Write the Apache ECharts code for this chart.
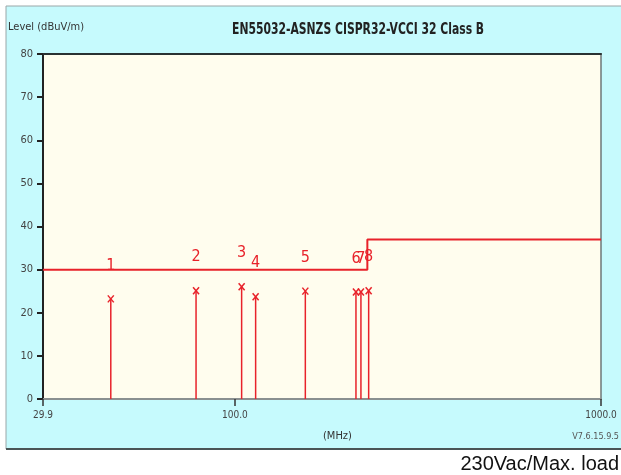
<!DOCTYPE html>
<html>
<head>
<meta charset="utf-8">
<script src="https://cdn.jsdelivr.net/npm/echarts@6/dist/echarts.min.js"></script>
<style>html,body{margin:0;padding:0;background:#fff;}#c{width:621px;height:475px;}</style>
</head>
<body>
<div id="c"></div>
<script>
// Data
const markerFreqs = [45.8, 78.3, 104.3, 113.9, 155.7, 214.1, 220.9, 231.9]; // MHz
const markerLevels = [23.1, 25.0, 25.9, 23.6, 24.9, 24.7, 24.7, 25.0];     // dBuV/m
const markerNames = ['1', '2', '3', '4', '5', '6', '7', '8'];
const limitFreqs = [29.9, 230, 230, 1000];
const limitLevels = [30, 30, 37, 37];
const xTickValues = [29.9, 100, 1000];

const FONT = "'Liberation Sans Narrow','DejaVu Sans Condensed',Arial,sans-serif";
const RED = '#e8222a';

const chart = echarts.init(document.getElementById('c'), null, {renderer: 'canvas'});

const markerData = markerFreqs.map((f, i) => [f, markerLevels[i], markerNames[i]]);
const limitData = limitFreqs.map((f, i) => [f, limitLevels[i]]);

const option = {
  backgroundColor: '#ffffff',
  animation: false,
  graphic: [
    {type: 'rect', z: -10, shape: {x: 6, y: 6, width: 620, height: 443},
     style: {fill: '#c6fafd', stroke: '#9aa6a8', lineWidth: 1}},
    {type: 'line', z: -9, shape: {x1: 6, y1: 449, x2: 621, y2: 449},
     style: {stroke: '#4a5456', lineWidth: 2}},
    {type: 'text', left: 8, top: 22, style: {text: 'Level (dBuV/m)', font: '11px ' + FONT, fill: '#333'}},
    {type: 'text', x: 232, y: 23, scaleX: 0.8,
     style: {text: 'EN55032-ASNZS CISPR32-VCCI 32 Class B', font: 'bold 15px ' + FONT, fill: '#222'}},
    {type: 'text', left: 323, top: 431, style: {text: '(MHz)', font: '11px ' + FONT, fill: '#333'}},
    {type: 'text', right: 2, top: 432, style: {text: 'V7.6.15.9.5', font: '9px ' + FONT, fill: '#555'}},
    {type: 'text', right: 2, top: 454, style: {text: '230Vac/Max. load', font: '20px Arial, "Liberation Sans", sans-serif', fill: '#111'}}
  ],
  grid: {
    left: 43, top: 54, width: 558, height: 345,
    show: true, backgroundColor: '#fffdee', borderColor: '#6f7778', borderWidth: 1.5
  },
  xAxis: [{
    type: 'log', logBase: 10, min: 29.9, max: 1000,
    axisLine: {show: true, lineStyle: {color: '#8a9090', width: 2}},
    axisTick: {show: true, customValues: xTickValues, length: 7, lineStyle: {color: '#333', width: 1.5}},
    axisLabel: {show: true, customValues: xTickValues, margin: 11, fontSize: 10, fontFamily: FONT, color: '#444',
      formatter: v => Number(v).toFixed(1)},
    splitLine: {show: false}, minorTick: {show: false}
  }, {
    type: 'log', logBase: 10, min: 29.9, max: 1000, position: 'top',
    axisLine: {show: true, lineStyle: {color: '#2a3232', width: 2}},
    axisTick: {show: false}, axisLabel: {show: false}, splitLine: {show: false}
  }],
  yAxis: {
    type: 'value', min: 0, max: 80, interval: 10,
    axisLine: {show: true, lineStyle: {color: '#222', width: 2}},
    axisTick: {show: true, length: 6, lineStyle: {color: '#222', width: 2}},
    axisLabel: {margin: 10, fontSize: 11, fontFamily: FONT, color: '#444'},
    splitLine: {show: false}
  },
  series: [
    {
      type: 'line', data: limitData, symbol: 'none', z: 3,
      lineStyle: {color: RED, width: 2}
    },
    {
      type: 'custom', z: 4,
      data: markerData,
      renderItem: function (params, api) {
        const x = api.value(0), y = api.value(1);
        const top = api.coord([x, y]);
        const base = api.coord([x, 0]);
        const s = 3;
        const st = {stroke: RED, lineWidth: 1.5};
        return {
          type: 'group',
          children: [
            {type: 'line', shape: {x1: base[0], y1: base[1], x2: top[0], y2: top[1]}, style: st},
            {type: 'line', shape: {x1: top[0] - s, y1: top[1] - s - 1, x2: top[0] + s, y2: top[1] + s}, style: st},
            {type: 'line', shape: {x1: top[0] + s, y1: top[1] - s - 1, x2: top[0] - s, y2: top[1] + s}, style: st},
            {type: 'text', style: {text: api.value(2), x: top[0], y: top[1] - 34,
              align: 'center', verticalAlign: 'middle', font: '16px ' + FONT, fill: RED}}
          ]
        };
      }
    }
  ]
};
chart.setOption(option);
</script>
</body>
</html>
